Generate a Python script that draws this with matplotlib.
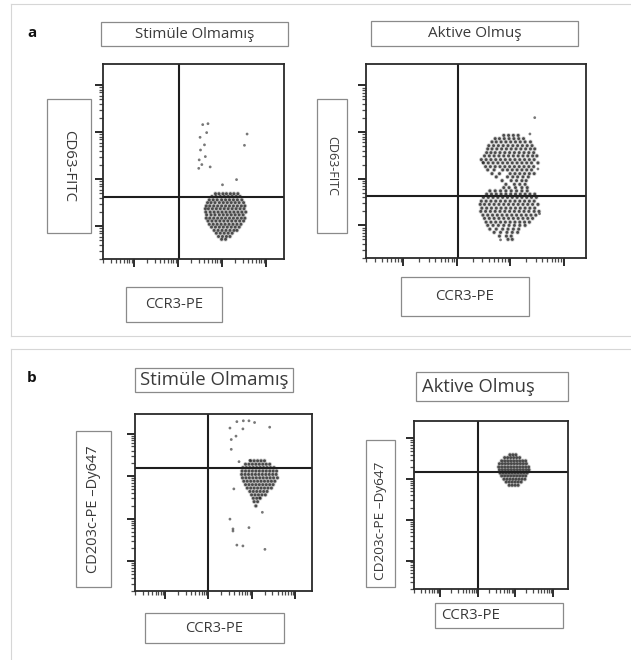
import matplotlib.pyplot as plt
import matplotlib.patches as mpatches
import matplotlib.lines as mlines
import numpy as np


# figure size in pixels (dpi 100)
W = 631
H = 660

FONT = "Open Sans"
TEXT_COLOR = "#3a3a3a"
BOX_COLOR = "#8a8a8a"
DOT_COLOR = "#1e1e1e"
HALO_COLOR = "#9a9a9a"


# ----------------------------------------
# Data (values in log10 channel units)
# ----------------------------------------

# a - CD63 / CCR3, unstimulated: rows of (y, [x, ...])
a_stim_rows = [
    (1.69, [2.86, 2.94, 3.03, 3.11, 3.20, 3.28, 3.37]),
    (1.63, [2.78, 2.87, 2.97, 3.06, 3.15, 3.24, 3.33, 3.42]),
    (1.56, [2.72, 2.81, 2.90, 3.00, 3.09, 3.18, 3.27, 3.36, 3.46]),
    (1.50, [2.68, 2.76, 2.85, 2.95, 3.04, 3.13, 3.22, 3.31, 3.40, 3.50]),
    (1.43, [2.65, 2.73, 2.82, 2.91, 3.00, 3.09, 3.18, 3.27, 3.36, 3.45, 3.53]),
    (1.37, [2.63, 2.70, 2.79, 2.88, 2.97, 3.06, 3.15, 3.24, 3.33, 3.42, 3.51]),
    (1.30, [2.64, 2.74, 2.83, 2.92, 3.01, 3.10, 3.19, 3.28, 3.37, 3.46, 3.55]),
    (1.24, [2.66, 2.76, 2.85, 2.95, 3.04, 3.13, 3.22, 3.31, 3.40, 3.49]),
    (1.17, [2.65, 2.73, 2.82, 2.91, 3.00, 3.09, 3.18, 3.27, 3.36, 3.45, 3.53]),
    (1.11, [2.69, 2.78, 2.87, 2.96, 3.05, 3.14, 3.23, 3.32, 3.41, 3.50]),
    (1.04, [2.72, 2.81, 2.90, 2.99, 3.08, 3.17, 3.26, 3.35, 3.44]),
    (0.98, [2.77, 2.86, 2.95, 3.04, 3.13, 3.22, 3.31, 3.40]),
    (0.91, [2.83, 2.92, 3.01, 3.10, 3.19, 3.28, 3.35]),
    (0.85, [2.88, 2.97, 3.06, 3.15, 3.24]),
    (0.78, [2.93, 3.02, 3.11, 3.19]),
    (0.72, [3.00, 3.09]),
]

a_stim_out_x = [2.57, 2.69, 2.66, 2.51, 2.61, 3.58, 3.52, 2.52,
                2.63, 2.49, 2.55, 2.48, 2.74, 3.34, 3.02]
a_stim_out_y = [3.16, 3.18, 2.99, 2.89, 2.73, 2.96, 2.72, 2.62,
                2.48, 2.41, 2.31, 2.23, 2.26, 1.99, 1.88]

# a - CD63 / CCR3, activated
a_act_rows = [
    (2.93, [2.88, 2.97, 3.06, 3.15]),
    (2.86, [2.72, 2.80, 2.89, 2.98, 3.07, 3.16, 3.25]),
    (2.79, [2.66, 2.74, 2.83, 2.92, 3.01, 3.10, 3.19, 3.28, 3.38]),
    (2.71, [2.60, 2.69, 2.78, 2.87, 2.96, 3.05, 3.14, 3.23, 3.32, 3.41]),
    (2.64, [2.58, 2.66, 2.75, 2.84, 2.93, 3.02, 3.11, 3.20, 3.29, 3.38, 3.46]),
    (2.56, [2.56, 2.64, 2.72, 2.81, 2.90, 2.99, 3.08, 3.17, 3.26, 3.35, 3.44]),
    (2.49, [2.52, 2.61, 2.70, 2.79, 2.88, 2.97, 3.06, 3.15, 3.24, 3.33, 3.42, 3.50]),
    (2.41, [2.46, 2.55, 2.64, 2.73, 2.82, 2.91, 3.00, 3.09, 3.18, 3.27, 3.36, 3.45]),
    (2.34, [2.50, 2.59, 2.68, 2.77, 2.86, 2.95, 3.04, 3.13, 3.22, 3.31, 3.40, 3.52]),
    (2.26, [2.54, 2.63, 2.72, 2.81, 2.90, 2.99, 3.08, 3.17, 3.26, 3.35, 3.44]),
    (2.19, [2.58, 2.70, 2.86, 2.95, 3.04, 3.13, 3.22, 3.31, 3.40]),
    (2.11, [2.66, 2.80, 3.00, 3.09, 3.18, 3.27, 3.36, 3.45]),
    (2.04, [2.74, 2.95, 3.05, 3.14, 3.24, 3.34]),
    (1.96, [2.85, 3.02, 3.12, 3.22, 3.30]),
    (1.88, [2.92, 3.08, 3.18, 3.28]),
    (1.81, [2.88, 2.98, 3.10, 3.22, 3.32]),
    (1.74, [2.62, 2.72, 2.82, 2.92, 3.02, 3.12, 3.22, 3.32]),
    (1.67, [2.56, 2.65, 2.74, 2.83, 2.92, 3.01, 3.10, 3.19, 3.28, 3.37, 3.46]),
    (1.60, [2.50, 2.59, 2.68, 2.77, 2.86, 2.95, 3.04, 3.13, 3.22, 3.31, 3.40, 3.49]),
    (1.52, [2.46, 2.55, 2.64, 2.73, 2.82, 2.91, 3.00, 3.09, 3.18, 3.27, 3.36, 3.45]),
    (1.45, [2.44, 2.52, 2.61, 2.70, 2.79, 2.88, 2.97, 3.06, 3.15, 3.24, 3.33, 3.42, 3.52]),
    (1.37, [2.47, 2.56, 2.65, 2.74, 2.83, 2.92, 3.01, 3.10, 3.19, 3.28, 3.37, 3.46]),
    (1.30, [2.45, 2.54, 2.63, 2.72, 2.81, 2.90, 2.99, 3.08, 3.17, 3.26, 3.35, 3.45, 3.54]),
    (1.22, [2.49, 2.58, 2.67, 2.76, 2.85, 2.94, 3.03, 3.12, 3.21, 3.30, 3.39, 3.48]),
    (1.15, [2.52, 2.61, 2.70, 2.79, 2.88, 2.97, 3.06, 3.15, 3.24, 3.33, 3.42]),
    (1.07, [2.55, 2.64, 2.73, 2.82, 2.91, 3.00, 3.09, 3.18, 3.27, 3.36]),
    (1.00, [2.58, 2.68, 2.78, 2.88, 2.98, 3.08, 3.18, 3.28]),
    (0.92, [2.62, 2.74, 2.86, 2.96, 3.06, 3.16]),
    (0.85, [2.70, 2.82, 2.94, 3.04, 3.14]),
    (0.77, [2.80, 2.93, 3.02]),
    (0.70, [2.96, 3.04]),
]

a_act_out_x = [3.46, 3.37, 2.49, 3.52, 3.55, 2.82]
a_act_out_y = [3.31, 2.96, 2.35, 2.21, 1.25, 0.69]

# b - CD203c / CCR3, unstimulated
b_stim_rows = [
    (3.36, [2.98, 3.06, 3.14, 3.22, 3.30]),
    (3.28, [2.86, 2.94, 3.02, 3.10, 3.18, 3.26, 3.34, 3.42]),
    (3.20, [2.80, 2.88, 2.96, 3.04, 3.12, 3.20, 3.28, 3.36, 3.44, 3.52]),
    (3.12, [2.78, 2.86, 2.94, 3.02, 3.10, 3.18, 3.26, 3.34, 3.42, 3.50, 3.58]),
    (3.04, [2.77, 2.85, 2.93, 3.01, 3.09, 3.17, 3.25, 3.33, 3.41, 3.49, 3.57]),
    (2.96, [2.79, 2.87, 2.95, 3.03, 3.11, 3.19, 3.27, 3.35, 3.43, 3.51, 3.60]),
    (2.88, [2.82, 2.90, 2.98, 3.06, 3.14, 3.22, 3.30, 3.38, 3.46, 3.54]),
    (2.80, [2.86, 2.94, 3.02, 3.10, 3.18, 3.26, 3.34, 3.42, 3.50]),
    (2.72, [2.90, 2.98, 3.06, 3.14, 3.22, 3.30, 3.38, 3.46]),
    (2.64, [2.96, 3.04, 3.12, 3.20, 3.28, 3.36]),
    (2.56, [3.00, 3.08, 3.16, 3.24, 3.32]),
    (2.48, [3.04, 3.12, 3.20]),
    (2.40, [3.06, 3.14]),
    (2.30, [3.10]),
]

b_stim_out_x = [2.50, 2.66, 2.81, 2.94, 3.07, 2.80, 3.42, 2.64, 2.53, 2.53, 2.71,
                2.96, 2.59, 3.25, 2.50, 2.57, 2.57, 2.94, 2.66, 2.80, 3.31, 3.19]
b_stim_out_y = [4.13, 4.28, 4.30, 4.30, 4.26, 4.11, 4.15, 3.94, 3.86, 3.63, 3.34,
                3.37, 2.70, 2.15, 1.99, 1.76, 1.71, 1.79, 1.38, 1.36, 1.28, 2.49]

# b - CD203c / CCR3, activated
b_act_rows = [
    (3.60, [2.86, 2.94, 3.02]),
    (3.53, [2.72, 2.80, 2.88, 2.96, 3.04, 3.12]),
    (3.45, [2.64, 2.72, 2.80, 2.88, 2.96, 3.04, 3.12, 3.20, 3.28]),
    (3.38, [2.58, 2.66, 2.74, 2.82, 2.90, 2.98, 3.06, 3.14, 3.22, 3.30]),
    (3.30, [2.56, 2.64, 2.72, 2.80, 2.88, 2.96, 3.04, 3.12, 3.20, 3.28, 3.36]),
    (3.23, [2.58, 2.66, 2.74, 2.82, 2.90, 2.98, 3.06, 3.14, 3.22, 3.30, 3.37]),
    (3.15, [2.60, 2.68, 2.76, 2.84, 2.92, 3.00, 3.08, 3.16, 3.24, 3.32]),
    (3.08, [2.64, 2.72, 2.80, 2.88, 2.96, 3.04, 3.12, 3.20, 3.28]),
    (3.00, [2.70, 2.78, 2.86, 2.94, 3.02, 3.10, 3.18, 3.26]),
    (2.93, [2.76, 2.84, 2.92, 3.00, 3.08, 3.16]),
    (2.85, [2.84, 2.92, 3.00, 3.08]),
]

b_act_out_x = []
b_act_out_y = []

# text
title_stim = "Stimüle Olmamış"
title_act = "Aktive Olmuş"
xlabel_ccr3 = "CCR3-PE"
ylabel_cd63 = "CD63-FITC"
ylabel_cd203 = "CD203c-PE \u2013Dy647"


# ----------------------------------------
# Helpers
# ----------------------------------------

def px_rect(x0, y0, x1, y1):

    return [x0 / W, 1 - y1 / H, (x1 - x0) / W, (y1 - y0) / H]


def rows_to_xy(rows):

    xs = [x for y, row in rows for x in row]

    ys = [y for y, row in rows for x in row]

    return np.array(xs), np.array(ys)


def label_box(fig, box, text, size, rotation=0, align="center", inset=6):

    x0, y0, x1, y1 = box

    rect = mpatches.Rectangle(
        (x0 / W, 1 - y1 / H),
        (x1 - x0) / W,
        (y1 - y0) / H,
        transform=fig.transFigure,
        fill=False,
        edgecolor=BOX_COLOR,
        linewidth=0.9
    )

    fig.add_artist(rect)

    cx = (x0 + x1) / 2
    cy = (y0 + y1) / 2

    ha = "center"
    va = "center"

    if align == "left":
        cx = x0 + inset
        ha = "left"

    if align == "bottom":
        cy = y1 - inset
        va = "bottom"

    fig.text(
        cx / W,
        1 - cy / H,
        text,
        ha=ha,
        va=va,
        rotation=rotation,
        fontsize=size,
        color=TEXT_COLOR,
        family=FONT
    )


def dot_plot(fig, box, rows, out_x, out_y, xlim, ylim, gate_x, gate_y):

    ax = fig.add_axes(px_rect(*box))

    xs, ys = rows_to_xy(rows)

    # soft grey halo first, dark core on top
    ax.scatter(
        10 ** xs,
        10 ** ys,
        s=11,
        color=HALO_COLOR,
        alpha=0.45,
        edgecolors="none"
    )

    ax.scatter(
        10 ** xs,
        10 ** ys,
        s=4.5,
        color=DOT_COLOR,
        alpha=0.75,
        edgecolors="none"
    )

    if len(out_x):
        ax.scatter(
            10 ** np.array(out_x),
            10 ** np.array(out_y),
            s=4,
            color=DOT_COLOR,
            alpha=0.6,
            edgecolors="none"
        )

    ax.set_xscale("log")
    ax.set_yscale("log")

    ax.set_xlim(10 ** xlim[0], 10 ** xlim[1])
    ax.set_ylim(10 ** ylim[0], 10 ** ylim[1])

    # gates
    ax.axvline(10 ** gate_x, color="#1e1e1e", linewidth=1.5)
    ax.axhline(10 ** gate_y, color="#1e1e1e", linewidth=1.5)

    # log decades with minor ticks only up to 10^4
    majors = [10, 100, 1000, 10000]
    minors = [k * 10 ** n for n in range(0, 4) for k in range(2, 10)]

    ax.set_xticks(majors)
    ax.set_yticks(majors)
    ax.set_xticks(minors, minor=True)
    ax.set_yticks(minors, minor=True)

    ax.set_xticklabels([])
    ax.set_yticklabels([])
    ax.set_xticklabels([], minor=True)
    ax.set_yticklabels([], minor=True)

    ax.tick_params(which="major", direction="out", length=5.5, width=1.4, color="#2a2a2a")
    ax.tick_params(which="minor", direction="out", length=3, width=0.9, color="#4a4a4a")

    for side in ax.spines.values():
        side.set_linewidth(1.3)
        side.set_color("#2a2a2a")

    return ax


# ----------------------------------------
# Figure
# ----------------------------------------

fig = plt.figure(figsize=(W / 100, H / 100), dpi=100)

# light panel frames
frame_color = "#d6d6d6"

fig.add_artist(mlines.Line2D([10.5 / W, 1], [1 - 4 / H, 1 - 4 / H], transform=fig.transFigure, color=frame_color, linewidth=0.8))
fig.add_artist(mlines.Line2D([10.5 / W, 1], [1 - 336 / H, 1 - 336 / H], transform=fig.transFigure, color=frame_color, linewidth=0.8))
fig.add_artist(mlines.Line2D([10.5 / W, 10.5 / W], [1 - 4 / H, 1 - 336 / H], transform=fig.transFigure, color=frame_color, linewidth=0.8))

fig.add_artist(mlines.Line2D([10.5 / W, 1], [1 - 349 / H, 1 - 349 / H], transform=fig.transFigure, color=frame_color, linewidth=0.8))
fig.add_artist(mlines.Line2D([10.5 / W, 10.5 / W], [1 - 349 / H, 0], transform=fig.transFigure, color=frame_color, linewidth=0.8))

# panel letters
fig.text(27 / W, 1 - 33 / H, "a", fontsize=11, fontweight="bold", family=FONT, color="#111111", va="center")
fig.text(27 / W, 1 - 378 / H, "b", fontsize=11, fontweight="bold", family=FONT, color="#111111", va="center")

# ----------------------------------------
# Panel a
# ----------------------------------------

dot_plot(fig, (103, 64, 284, 259), a_stim_rows, a_stim_out_x, a_stim_out_y,
         (0.43, 4.42), (0.445, 4.45), 2.02, 1.62)

label_box(fig, (101, 22, 288, 46), title_stim, 10.8)
label_box(fig, (47, 99, 91, 233), ylabel_cd63, 10.8, rotation=-90)
label_box(fig, (126, 287, 222, 322), xlabel_ccr3, 10.6)

dot_plot(fig, (366, 64, 586, 258), a_act_rows, a_act_out_x, a_act_out_y,
         (0.42, 4.42), (0.42, 4.46), 2.02, 1.62)

label_box(fig, (371, 21, 578, 46), title_act, 11)
label_box(fig, (317, 99, 347, 233), ylabel_cd63, 9, rotation=-90)
label_box(fig, (401, 277, 529, 316), xlabel_ccr3, 10.8)

# ----------------------------------------
# Panel b
# ----------------------------------------

dot_plot(fig, (135, 414, 312, 591), b_stim_rows, b_stim_out_x, b_stim_out_y,
         (0.64, 4.40), (0.40, 4.46), 2.0, 3.2)

label_box(fig, (135, 368, 293, 392), title_stim, 13.4)
label_box(fig, (76, 431, 111, 587), ylabel_cd203, 10.5, rotation=90)
label_box(fig, (145, 613, 284, 643), xlabel_ccr3, 10.6)

dot_plot(fig, (414, 421, 568, 589), b_act_rows, b_act_out_x, b_act_out_y,
         (0.46, 4.41), (0.40, 4.43), 2.0, 3.18)

label_box(fig, (416, 372, 568, 401), title_act, 13.2, align="left", inset=6)
label_box(fig, (366, 440, 395, 587), ylabel_cd203, 9.7, rotation=90, align="bottom", inset=7)
label_box(fig, (435, 603, 563, 628), xlabel_ccr3, 10.8, align="left", inset=6)

fig.savefig("out.png", dpi=100)
